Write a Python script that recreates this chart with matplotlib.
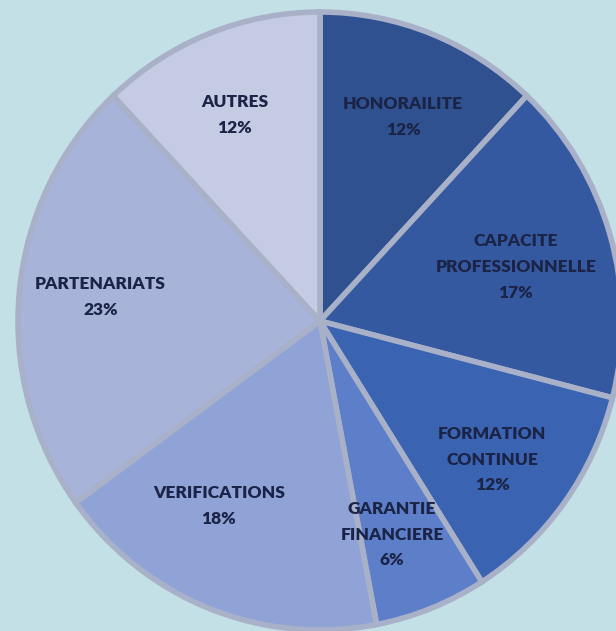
import matplotlib
matplotlib.use("Agg")
import matplotlib.pyplot as plt

categories = ["HONORAILITE", "CAPACITE\nPROFESSIONNELLE", "FORMATION\nCONTINUE",
              "GARANTIE\nFINANCIERE", "VERIFICATIONS", "PARTENARIATS", "AUTRES"]
values = [12, 17, 12, 6, 18, 23, 12]
colors = ["#2F5190", "#3559A0", "#3A63B2", "#5D7FC9", "#8FA3D6", "#A7B3D9", "#C6CBE4"]

# label nudges in pixels (right, down) relative to the default label position
label_nudge = [(2, 6), (-16, 9), (-6, 6), (-9, 4), (-20, -25), (0, -3), (-4, 4)]

bg = "#C3E0E6"
W, H = 616, 631
cx, cy = 320, 321     # pie centre in pixels (from top-left)
rx, ry = 302, 309     # horizontal / vertical radius in pixels

fig = plt.figure(figsize=(W / 100, H / 100), dpi=100, facecolor=bg)
ax = fig.add_axes([0, 0, 1, 1])
ax.set_facecolor(bg)

labels = [f"{c}\n{v}%" for c, v in zip(categories, values)]
wedges, texts = ax.pie(values, colors=colors, startangle=90, counterclock=False,
                       radius=1, labels=labels, labeldistance=0.73, frame=True,
                       wedgeprops=dict(edgecolor="#A9B1C9", linewidth=4),
                       textprops=dict(fontfamily="Lato", fontweight="heavy", fontsize=12.5,
                                      color="#1B2447", linespacing=1.75))
for t, (ndx, ndy) in zip(texts, label_nudge):
    t.set_horizontalalignment("center")
    t.set_verticalalignment("center")
    x, y = t.get_position()
    t.set_position((x + ndx / rx, y - ndy / ry))
ax.set_xlim(-cx / rx, (W - cx) / rx)
ax.set_ylim(-(H - cy) / ry, cy / ry)
ax.set_aspect("auto")
ax.axis("off")
fig.savefig("out.png", dpi=100, facecolor=bg)
